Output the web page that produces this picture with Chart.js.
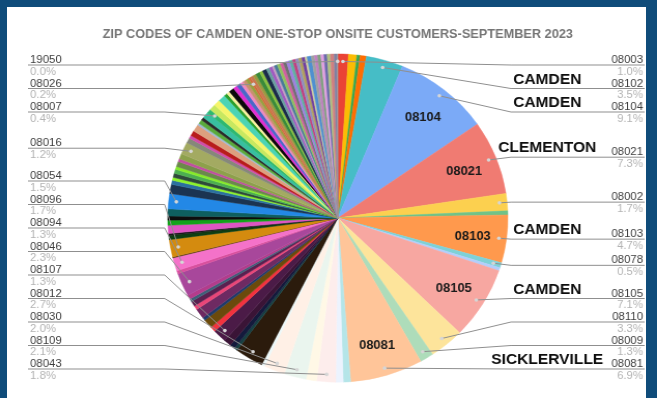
<!DOCTYPE html>
<html>
<head>
<meta charset="utf-8">
<title>Zip codes of Camden One-Stop onsite customers</title>
<script src="https://cdn.jsdelivr.net/npm/chart.js@4.4.0/dist/chart.umd.min.js"></script>
<style>
    html, body { margin: 0; padding: 0; width: 657px; height: 398px; overflow: hidden; background: #0f4c7a; }
    #panel { position: absolute; left: 7px; top: 7px; width: 639px; height: 391px; background: #fff; }
    /* the exported slide is a little wider than tall, so the chart is stretched to fit */
    #wrap { position: absolute; left: 0; top: 0; width: 634px; height: 398px; transform: scaleX(1.0363); transform-origin: 0 0; }
</style>
</head>
<body>
<div id="panel"></div>
<div id="wrap"><canvas id="chart"></canvas></div>
<script>
// Slices clockwise from 12 o'clock. Blank zip = zip code too small to get its own label.
const zipCodes = [
    '08003', '', '', '', '08102', '08104', '08021', '08002', '', '08103', '08078', '', '08105', '08110', '08009', '08081',
    '', '', '08043', '', '08109', '08030', '', '08012',
    '', '', '', '08107', '', '', '', '', '', '', '', '',
    '08046', '', '08094', '', '08096',
    '', '', '', '', '', '',
    '08054', '', '', '', '', '', '', '', '', '',
    '08016', '', '', '', '', '', '', '', '',
    '08007', '', '', '', '', '', '', '', '', '', '', '',
    '08026',
    '', '', '', '', '', '', '', '', '', '', '', '', '', '',
    '', '', '', '', '', '', '', '', '', '', '', '', '', '',
    '19050'
];

// share of customers, %
const shares = [
    1.0, 0.8, 0.3, 0.6, 3.5, 9.1, 7.3, 1.7, 0.4, 4.7, 0.5, 0.3, 7.1, 3.3, 1.3, 6.9,
    0.7, 0.7, 1.8, 1.0, 2.1, 2.0, 0.3, 2.7,
    0.3, 0.5, 0.7, 1.3, 0.5, 0.9, 0.3, 1.0, 0.4, 0.5, 0.3, 0.4,
    2.3, 0.3, 1.3, 0.1, 1.7,
    0.4, 0.2, 0.8, 0.5, 0.4, 0.7,
    1.5, 0.9, 0.4, 0.3, 0.4, 0.4, 0.3, 0.5, 0.3, 0.5,
    1.2, 0.5, 0.3, 0.5, 0.7, 0.2, 0.4, 0.3, 0.6,
    0.4, 0.6, 0.6, 0.7, 0.3, 0.3, 0.5, 0.4, 0.4, 0.3, 0.3, 0.3,
    0.2,
    0.3, 0.3, 0.4, 0.3, 0.4, 0.3, 0.3, 0.2, 0.3, 0.3, 0.3, 0.3, 0.3, 0.3,
    0.3, 0.3, 0.3, 0.3, 0.2, 0.4, 0.3, 0.3, 0.3, 0.3, 0.3, 0.3, 0.36, 0.3,
    0.04
];

const sliceColors = [
    '#ea4335', '#fbbc04', '#34a853', '#ff6d01', '#46bdc6', '#7baaf7', '#f07b72', '#fcd04f', '#71c287', '#ff994d', '#7ed1d7', '#b3cefb', '#f7a7a1', '#fde49b', '#aedcba', '#ffc599',
    '#b5e5e8', '#ecf3fe', '#fdedec', '#fff8e6', '#eaf5ee', '#fff0e6', '#edf8f9', '#2b1b0c',
    '#173f42', '#141a3c', '#3a1436', '#4b1b47', '#f2323e', '#6b4a0c', '#1f3b6b', '#6e2a62', '#e84678', '#5a2050', '#3f5f78', '#b33c8c',
    '#a8479b', '#d8509e', '#f472c9', '#5a3a10', '#d48b0f',
    '#0e3e12', '#1a1a1a', '#de55c2', '#12a21a', '#0d0d0d', '#0e5f5f',
    '#2388e6', '#1b3452', '#2b70a0', '#8cf22c', '#2e4a3a', '#4caf50', '#86ea2a', '#6a8a4a', '#c050a0', '#8da04b',
    '#a3aa62', '#86887a', '#d04ea8', '#b81c1c', '#dda07e', '#a0b8d0', '#5aaa3c', '#2a2a2a', '#38bfa0',
    '#2eb872', '#c8e860', '#f5f56a', '#4cd4b4', '#2ca02c', '#f8f0a0', '#0a0a0a', '#e030d0', '#4a68c8', '#f08ac0', '#c89070', '#98a040',
    '#d06c3c',
    '#c87850', '#9a9a40', '#3a8a3a', '#8ac040', '#1a2a4a', '#6aa0a0', '#a05ac0', '#c0a0c0', '#4a7a9a', '#90c060', '#d060a0', '#707070', '#a080e0', '#60b0a0',
    '#c04080', '#9090c0', '#b0a060', '#7040a0', '#d0d0a0', '#5090d0', '#a0a0a0', '#c080c0', '#80a080', '#e0a0e0', '#6a6aaa', '#b0c080', '#d08080', '#8080a0',
    '#9e9e9e'
];

// town names written next to some of the zip labels
const cityTags = [
    ['08102', 'CAMDEN'],
    ['08104', 'CAMDEN'],
    ['08021', 'CLEMENTON'],
    ['08103', 'CAMDEN'],
    ['08105', 'CAMDEN'],
    ['08081', 'SICKLERVILLE']
];

const FONT = '"Liberation Sans", Arial, sans-serif';

// push labels apart so they keep at least `gap` px between rows
function spread(items, gap, top, bottom) {
    items.sort((a, b) => a.y - b.y);
    items.forEach((it, i) => {
        it.y = Math.max(it.y, top);
        if (i > 0) it.y = Math.max(it.y, items[i - 1].y + gap);
    });
    for (let i = items.length - 1; i >= 0; i--) {
        const limit = i === items.length - 1 ? bottom : items[i + 1].y - gap;
        items[i].y = Math.min(items[i].y, limit);
    }
}

const calloutPlugin = {
    id: 'callouts',
    afterDatasetsDraw(chart) {
        const ctx = chart.ctx;
        const arcs = chart.getDatasetMeta(0).data;
        const total = shares.reduce((a, b) => a + b, 0);
        const left = [];
        const right = [];

        arcs.forEach((arc, i) => {
            const mid = (arc.startAngle + arc.endAngle) / 2;
            const r = arc.outerRadius;

            // zip code inside the big slices
            if (shares[i] >= 4) {
                ctx.save();
                ctx.font = `bold 12.5px ${FONT}`;
                ctx.fillStyle = '#1a1a1a';
                ctx.textAlign = 'center';
                ctx.textBaseline = 'middle';
                ctx.fillText(zipCodes[i], arc.x + Math.cos(mid) * r * 0.8, arc.y + Math.sin(mid) * r * 0.8 + 2);
                ctx.restore();
            }

            if (!zipCodes[i]) return;
            const item = { i, mid, cx: arc.x, cy: arc.y, r, y: arc.y + Math.sin(mid) * r };
            (Math.cos(mid) >= 0 ? right : left).push(item);
        });

        spread(left, 23.5, 65, 369);
        spread(right, 23.5, 65, 369);

        const drawSide = (items, isRight) => {
            items.forEach(it => {
                const side = isRight ? 1 : -1;
                const elbowX = it.cx + side * (it.r + 3);
                const lineEnd = isRight ? chart.width - 12 : 27;
                const textX = isRight ? chart.width - 13.5 : 29;
                const dotX = it.cx + Math.cos(it.mid) * it.r * 0.955;
                const dotY = it.cy + Math.sin(it.mid) * it.r * 0.955;

                ctx.save();
                ctx.strokeStyle = '#8f8f8f';
                ctx.lineWidth = 1;
                ctx.beginPath();
                ctx.moveTo(lineEnd, it.y);
                ctx.lineTo(elbowX, it.y);
                ctx.lineTo(dotX, dotY);
                ctx.stroke();

                ctx.beginPath();
                ctx.arc(dotX, dotY, 1.8, 0, Math.PI * 2);
                ctx.fillStyle = '#d6d6d6';
                ctx.fill();

                ctx.font = `11px ${FONT}`;
                ctx.textAlign = isRight ? 'right' : 'left';
                ctx.textBaseline = 'alphabetic';
                ctx.fillStyle = '#3d3d3d';
                ctx.fillText(zipCodes[it.i], textX, it.y - 2);
                ctx.fillStyle = '#b3b3b3';
                ctx.fillText((shares[it.i] / total * 100).toFixed(1) + '%', textX, it.y + 9.5);

                const tag = cityTags.find(t => t[0] === zipCodes[it.i]);
                if (tag) {
                    ctx.font = `bold 15px ${FONT}`;
                    ctx.textAlign = 'center';
                    ctx.fillStyle = '#0d0d0d';
                    ctx.fillText(tag[1], it.cx + it.r + 38, it.y - 5);
                }
                ctx.restore();
            });
        };
        drawSide(left, false);
        drawSide(right, true);
    }
};

new Chart(document.getElementById('chart'), {
    type: 'pie',
    data: {
        labels: zipCodes,
        datasets: [{
            data: shares,
            backgroundColor: sliceColors,
            borderColor: sliceColors,
            borderWidth: 0.5,
            hoverOffset: 0
        }]
    },
    options: {
        responsive: true,
        maintainAspectRatio: false,
        animation: false,
        layout: { padding: { left: 18, right: 0, top: 0, bottom: 15.6 } },
        plugins: {
            legend: { display: false },
            tooltip: { enabled: false },
            title: {
                display: true,
                text: 'ZIP CODES OF CAMDEN ONE-STOP ONSITE CUSTOMERS-SEPTEMBER 2023',
                color: '#757575',
                font: { family: FONT, size: 12.3, weight: 'bold' },
                padding: { top: 27, bottom: 12 }
            }
        }
    },
    plugins: [calloutPlugin]
});
</script>
</body>
</html>
